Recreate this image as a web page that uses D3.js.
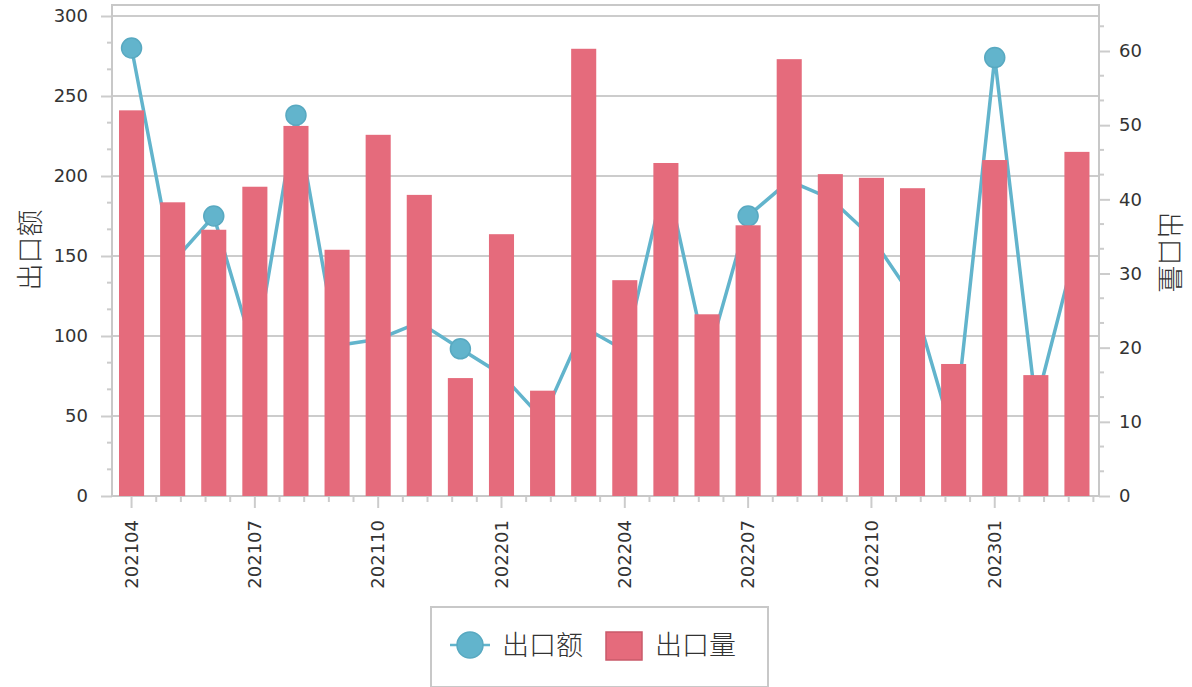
<!DOCTYPE html>
<html>
<head>
<meta charset="utf-8">
<script src="https://cdn.jsdelivr.net/npm/d3@7"></script>
<style>
  body { margin: 0; background: #fff; }
  text { fill: #333; }
</style>
</head>
<body>
<div id="chart"></div>
<script>
// months on the x axis
var months = ["202104", "202105", "202106", "202107", "202108", "202109",
  "202110", "202111", "202112", "202201", "202202", "202203",
  "202204", "202205", "202206", "202207", "202208", "202209",
  "202210", "202211", "202212", "202301", "202302", "202303"];

// 出口额 (line, left axis)
var exportValue = [280, 146, 175, 88, 238, 94, 98, 108.5, 92, 76, 48, 105.5,
  91, 200, 84.5, 175, 197, 186, 162, 124, 36, 274, 57, 157];

// 出口量 (bars, right axis)
var exportVolume = [52.0, 39.6, 35.9, 41.7, 49.9, 33.2, 48.7, 40.6, 15.9, 35.3, 14.2, 60.3,
  29.1, 44.9, 24.5, 36.5, 58.9, 43.4, 42.9, 41.5, 17.8, 45.3, 16.3, 46.4];

var leftTicks = [0, 50, 100, 150, 200, 250, 300];
var rightTicks = [0, 10, 20, 30, 40, 50, 60];
var xTickMonths = ["202104", "202107", "202110", "202201", "202204", "202207", "202210", "202301"];

var svgWidth = 1192;
var svgHeight = 687;

var plot = { left: 112, right: 1099, top: 5, bottom: 496 };

var lineColor = "#62b4cc";
var barColor = "#e56b7c";
var gridColor = "#cccccc";
var numFont = "'DejaVu Sans', Verdana, sans-serif";
var cjkFont = "'Noto Sans CJK SC', sans-serif";

var svg = d3.select("#chart")
  .append("svg")
  .attr("width", svgWidth)
  .attr("height", svgHeight);

// scales
var xScale = d3.scaleBand()
  .domain(months)
  .range([111, 1097.5])
  .paddingInner(0.39)
  .paddingOuter(0.195);

var xCenter = function(m) { return xScale(m) + xScale.bandwidth() / 2; };
var step = xScale.step();

var yLeft = d3.scaleLinear().domain([0, 300]).range([plot.bottom, 16]);
var yRight = d3.scaleLinear().domain([0, 64.72]).range([plot.bottom, 16]);

// gridlines
svg.append("g")
  .selectAll("line")
  .data(leftTicks)
  .enter()
  .append("line")
  .attr("x1", plot.left)
  .attr("x2", plot.right)
  .attr("y1", d => yLeft(d))
  .attr("y2", d => yLeft(d))
  .attr("stroke", gridColor)
  .attr("stroke-width", 2);

// left axis
var leftAxis = d3.axisLeft(yLeft)
  .tickValues(leftTicks)
  .tickSize(11)
  .tickPadding(13);

var leftG = svg.append("g")
  .attr("transform", `translate(${plot.left}, 0)`)
  .call(leftAxis);

// minor ticks left
svg.append("g")
  .selectAll("line")
  .data(d3.range(1, 18).map(i => i * 50 / 3).filter(v => Math.abs(v % 50) > 1 && Math.abs(v % 50 - 50) > 1))
  .enter()
  .append("line")
  .attr("x1", plot.left - 5)
  .attr("x2", plot.left)
  .attr("y1", d => yLeft(d))
  .attr("y2", d => yLeft(d))
  .attr("stroke", gridColor)
  .attr("stroke-width", 2);

// right axis
var rightAxis = d3.axisRight(yRight)
  .tickValues(rightTicks)
  .tickSize(11)
  .tickPadding(9);

var rightG = svg.append("g")
  .attr("transform", `translate(${plot.right}, 0)`)
  .call(rightAxis);

svg.append("g")
  .selectAll("line")
  .data(d3.range(1, 20).map(i => i * 10 / 3).filter(v => Math.abs(v % 10) > 0.1 && Math.abs(v % 10 - 10) > 0.1))
  .enter()
  .append("line")
  .attr("x1", plot.right)
  .attr("x2", plot.right + 5)
  .attr("y1", d => yRight(d))
  .attr("y2", d => yRight(d))
  .attr("stroke", gridColor)
  .attr("stroke-width", 2);

// bottom axis
var bottomAxis = d3.axisBottom(xScale)
  .tickValues(xTickMonths)
  .tickSize(12)
  .tickPadding(0);

var bottomG = svg.append("g")
  .attr("transform", `translate(0, ${plot.bottom})`)
  .call(bottomAxis);

bottomG.selectAll(".tick text")
  .attr("transform", "rotate(-90)")
  .attr("x", -24)
  .attr("y", 0)
  .attr("dy", "0.35em")
  .style("text-anchor", "end");

// minor ticks bottom, every 0.6 category
svg.append("g")
  .selectAll("line")
  .data(d3.range(0, 40).map(k => k * 0.6).filter(v => v <= 23.5 && Math.abs(v / 3 - Math.round(v / 3)) > 0.01))
  .enter()
  .append("line")
  .attr("x1", d => xCenter(months[0]) + d * step)
  .attr("x2", d => xCenter(months[0]) + d * step)
  .attr("y1", plot.bottom)
  .attr("y2", plot.bottom + 6)
  .attr("stroke", gridColor)
  .attr("stroke-width", 2);

// axis styling
[leftG, rightG, bottomG].forEach(function(g) {
  g.select(".domain").remove();
  g.selectAll(".tick line").attr("stroke", gridColor).attr("stroke-width", 2);
  g.selectAll(".tick text")
    .style("font-family", numFont)
    .style("font-size", "18px")
    .attr("fill", "#333");
});

// plot frame
svg.append("rect")
  .attr("x", plot.left)
  .attr("y", plot.top)
  .attr("width", plot.right - plot.left)
  .attr("height", plot.bottom - plot.top)
  .attr("fill", "none")
  .attr("stroke", "#c8c8c8")
  .attr("stroke-width", 2);

// line (drawn under the bars)
var line = d3.line()
  .x((d, i) => xCenter(months[i]))
  .y(d => yLeft(d));

svg.append("path")
  .datum(exportValue)
  .attr("d", line)
  .attr("fill", "none")
  .attr("stroke", lineColor)
  .attr("stroke-width", 3.5);

svg.append("g")
  .selectAll("circle")
  .data(exportValue)
  .enter()
  .append("circle")
  .attr("cx", (d, i) => xCenter(months[i]))
  .attr("cy", d => yLeft(d))
  .attr("r", 10)
  .attr("fill", lineColor)
  .attr("stroke", "#58a9c1")
  .attr("stroke-width", 1.5);

// bars
svg.append("g")
  .selectAll("rect")
  .data(exportVolume)
  .enter()
  .append("rect")
  .attr("x", (d, i) => xScale(months[i]))
  .attr("y", d => yRight(d))
  .attr("width", xScale.bandwidth())
  .attr("height", d => plot.bottom - yRight(d))
  .attr("fill", barColor);

// axis titles
svg.append("text")
  .attr("transform", "translate(40, 250) rotate(-90)")
  .style("text-anchor", "middle")
  .style("font-family", cjkFont)
  .style("font-weight", 300)
  .style("font-size", "27px")
  .text("出口额");

svg.append("text")
  .attr("transform", "translate(1160, 252) rotate(90)")
  .style("text-anchor", "middle")
  .style("font-family", cjkFont)
  .style("font-weight", 300)
  .style("font-size", "27px")
  .text("出口量");

// legend
var legend = svg.append("g");

legend.append("rect")
  .attr("x", 431)
  .attr("y", 607)
  .attr("width", 337)
  .attr("height", 80)
  .attr("fill", "#fff")
  .attr("stroke", "#c8c8c8")
  .attr("stroke-width", 2);

legend.append("line")
  .attr("x1", 450)
  .attr("x2", 490)
  .attr("y1", 645)
  .attr("y2", 645)
  .attr("stroke", lineColor)
  .attr("stroke-width", 2.5);

legend.append("circle")
  .attr("cx", 470)
  .attr("cy", 645)
  .attr("r", 13)
  .attr("fill", lineColor)
  .attr("stroke", "#58a9c1")
  .attr("stroke-width", 1.5);

legend.append("text")
  .attr("x", 502)
  .attr("y", 655)
  .style("font-family", cjkFont)
  .style("font-weight", 300)
  .style("font-size", "27px")
  .text("出口额");

legend.append("rect")
  .attr("x", 606)
  .attr("y", 632)
  .attr("width", 36)
  .attr("height", 28)
  .attr("fill", barColor)
  .attr("stroke", "#c95a6a")
  .attr("stroke-width", 1.5);

legend.append("text")
  .attr("x", 655)
  .attr("y", 655)
  .style("font-family", cjkFont)
  .style("font-weight", 300)
  .style("font-size", "27px")
  .text("出口量");
</script>
</body>
</html>
